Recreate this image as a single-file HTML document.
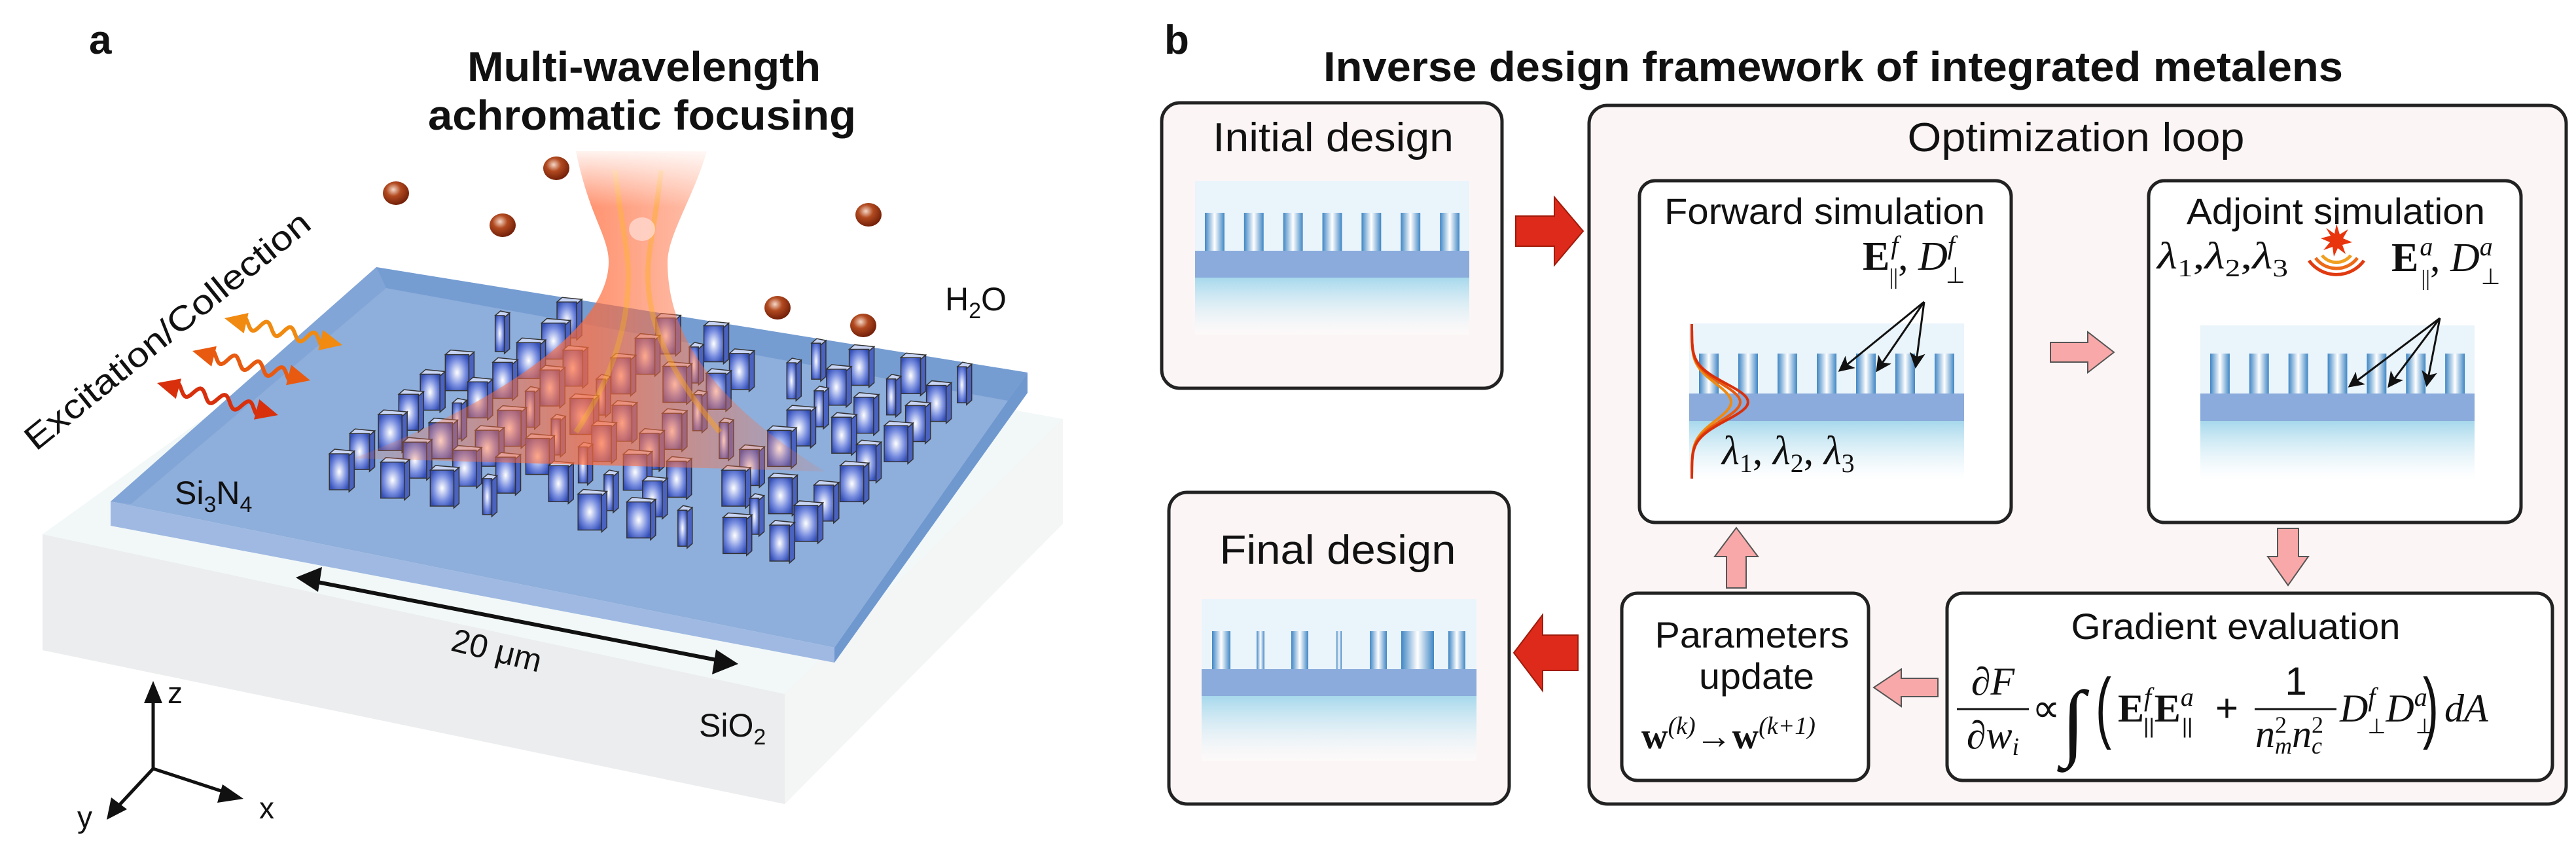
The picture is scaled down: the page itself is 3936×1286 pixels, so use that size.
<!DOCTYPE html>
<html><head><meta charset="utf-8"><style>
html,body{margin:0;padding:0;background:#fff;}
svg{display:block;}
text{font-family:"Liberation Sans",sans-serif;fill:#111;}
.m{font-family:"Liberation Serif",serif;font-style:italic;}
.b{font-family:"Liberation Serif",serif;font-weight:bold;font-style:normal;}
</style></head><body>
<svg id="s" width="3936" height="1286" viewBox="0 0 3936 1286" xmlns="http://www.w3.org/2000/svg">
<defs>
<linearGradient id="pil" x1="0" x2="1" y1="0" y2="0"><stop offset="0" stop-color="#3f86c4"/><stop offset="0.5" stop-color="#ffffff"/><stop offset="1" stop-color="#3f86c4"/></linearGradient>
<linearGradient id="bel" x1="0" x2="0" y1="0" y2="1"><stop offset="0" stop-color="#a6d8ec"/><stop offset="1" stop-color="#ffffff" stop-opacity="0.4"/></linearGradient>
<radialGradient id="cube" cx="0.5" cy="0.5" r="0.6"><stop offset="0" stop-color="#ffffff"/><stop offset="0.6" stop-color="#7a8fe0"/><stop offset="1" stop-color="#3550b8"/></radialGradient>
<radialGradient id="ball" cx="0.4" cy="0.35" r="0.7"><stop offset="0" stop-color="#f5d8c8"/><stop offset="0.4" stop-color="#b24a20"/><stop offset="1" stop-color="#6a1a05"/></radialGradient>
<linearGradient id="beam" x1="0" x2="1" y1="0" y2="0"><stop offset="0" stop-color="#ff7040" stop-opacity="0.15"/><stop offset="0.5" stop-color="#ff6a3a" stop-opacity="0.9"/><stop offset="1" stop-color="#ff7040" stop-opacity="0.15"/></linearGradient>
<linearGradient id="beamv" x1="0" x2="0" y1="0" y2="1"><stop offset="0" stop-color="#fff" stop-opacity="0"/><stop offset="0.12" stop-color="#fff" stop-opacity="1"/><stop offset="1" stop-color="#fff" stop-opacity="1"/></linearGradient>
<mask id="bm"><rect x="0" y="220" width="1700" height="800" fill="url(#beamv)"/></mask>
<marker id="ah" markerWidth="8" markerHeight="8" refX="7" refY="4" orient="auto" markerUnits="strokeWidth"><path d="M0,0 L8,4 L0,8 L2,4z" fill="#111"/></marker>
</defs>

<!-- Panel a -->
<text x="136" y="82" font-size="62" font-weight="bold">a</text>
<text x="984" y="124" font-size="64" font-weight="bold" text-anchor="middle" textLength="540" lengthAdjust="spacingAndGlyphs">Multi-wavelength</text>
<text x="981" y="198" font-size="64" font-weight="bold" text-anchor="middle" textLength="654" lengthAdjust="spacingAndGlyphs">achromatic focusing</text>

<!-- substrate -->
<polygon points="65,816 575,450 1624,640 1624,800 1199,1228 65,993" fill="#eef0f0" />
<polygon points="65,816 1199,1060 1199,1228 65,993" fill="#ebeced" opacity="0.9"/>
<polygon points="65,816 575,450 1624,640 1199,1060" fill="#f2f8f8"/>
<polygon points="1199,1060 1624,640 1624,800 1199,1228" fill="#f4f5f5"/>
<!-- slab -->
<polygon points="169,766 575,408 1570,569 1275,989" fill="#8eaedb"/>
<polygon points="169,766 1275,989 1275,1012 169,803" fill="#9fb9e2"/>
<polygon points="1275,989 1570,569 1570,600 1275,1012" fill="#6f98cf"/>
<polygon points="575,408 1570,569 1540,612 590,440" fill="#6f98cf" opacity="0.8"/>
<polygon points="169,766 575,408 590,440 200,770" fill="#7fa3d6" opacity="0.8"/>

<g id="pillars"></g>

<!-- beam -->
<g mask="url(#bm)" opacity="0.8">
<path d="M880,231 C900,330 930,360 930,400 C930,520 700,640 540,700 L1260,720 C1100,620 1020,520 1020,400 C1020,360 1060,300 1080,231 Z" fill="url(#beam)"/>
<path d="M940,260 C950,350 960,380 960,420 C960,520 920,600 880,660" stroke="#ff9a20" stroke-width="8" fill="none" opacity="0.7"/>
<path d="M1010,260 C1000,350 990,380 990,420 C990,520 1050,600 1100,660" stroke="#ff9a20" stroke-width="8" fill="none" opacity="0.7"/>
</g>

<!-- particles -->
<g>
<ellipse cx="605" cy="295" rx="20" ry="18" fill="url(#ball)"/>
<ellipse cx="850" cy="257" rx="20" ry="18" fill="url(#ball)"/>
<ellipse cx="768" cy="344" rx="20" ry="18" fill="url(#ball)"/>
<ellipse cx="981" cy="350" rx="20" ry="18" fill="#ffd8d0" opacity="0.8"/>
<ellipse cx="1327" cy="328" rx="20" ry="18" fill="url(#ball)"/>
<ellipse cx="1188" cy="470" rx="20" ry="18" fill="url(#ball)"/>
<ellipse cx="1319" cy="497" rx="20" ry="18" fill="url(#ball)"/>
</g>

<g id="waves"></g>

<text x="1444" y="474" font-size="50">H<tspan font-size="34" dy="12">2</tspan><tspan dy="-12">O</tspan></text>
<text x="267" y="770" font-size="50">Si<tspan font-size="34" dy="12">3</tspan><tspan dy="-12">N</tspan><tspan font-size="34" dy="12">4</tspan></text>
<text x="1068" y="1125" font-size="50">SiO<tspan font-size="34" dy="12">2</tspan></text>
<text x="0" y="0" font-size="50" transform="translate(687,993) rotate(14)">20 μm</text>
<line x1="475" y1="887" x2="1105" y2="1010" stroke="#111" stroke-width="6"/>
<polygon points="452,882 492,866 486,904" fill="#111"/>
<polygon points="1128,1014 1088,1030 1094,992" fill="#111"/>
<text x="0" y="0" font-size="52" transform="translate(55,690) rotate(-39)" textLength="545" lengthAdjust="spacingAndGlyphs">Excitation/Collection</text>

<!-- axes -->
<line x1="234" y1="1174" x2="234" y2="1060" stroke="#111" stroke-width="5"/>
<polygon points="234,1040 220,1074 248,1074" fill="#111"/>
<line x1="234" y1="1174" x2="350" y2="1212" stroke="#111" stroke-width="5"/>
<polygon points="372,1220 340,1198 332,1226" fill="#111"/>
<line x1="234" y1="1174" x2="180" y2="1232" stroke="#111" stroke-width="5"/>
<polygon points="163,1252 170,1218 194,1236" fill="#111"/>
<text x="256" y="1074" font-size="46">z</text>
<text x="396" y="1250" font-size="46">x</text>
<text x="118" y="1264" font-size="46">y</text>

<!-- Panel b -->
<text x="1779" y="82" font-size="62" font-weight="bold">b</text>
<text x="2801" y="124" font-size="64" font-weight="bold" text-anchor="middle" textLength="1558" lengthAdjust="spacingAndGlyphs">Inverse design framework of integrated metalens</text>

<g stroke="#222" stroke-width="5">
<rect x="1775" y="157" width="520" height="436" rx="28" fill="#fcf5f5"/>
<rect x="1786" y="752" width="520" height="476" rx="28" fill="#fcf5f5"/>
<rect x="2428" y="161" width="1493" height="1067" rx="28" fill="#fcf5f5"/>
<rect x="2505" y="276" width="568" height="522" rx="24" fill="#fff"/>
<rect x="3283" y="276" width="569" height="522" rx="24" fill="#fff"/>
<rect x="2478" y="906" width="377" height="286" rx="24" fill="#fff"/>
<rect x="2975" y="906" width="925" height="286" rx="24" fill="#fff"/>
</g>

<g id="lenses"></g>

<text x="2037" y="231" font-size="62" text-anchor="middle" textLength="368" lengthAdjust="spacingAndGlyphs">Initial design</text>
<text x="2044" y="861" font-size="62" text-anchor="middle" textLength="361" lengthAdjust="spacingAndGlyphs">Final design</text>
<text x="3172" y="231" font-size="62" text-anchor="middle" textLength="515" lengthAdjust="spacingAndGlyphs">Optimization loop</text>
<text x="2788" y="342" font-size="56" text-anchor="middle" textLength="490" lengthAdjust="spacingAndGlyphs">Forward simulation</text>
<text x="3569" y="342" font-size="56" text-anchor="middle" textLength="456" lengthAdjust="spacingAndGlyphs">Adjoint simulation</text>
<text x="3416" y="976" font-size="56" text-anchor="middle" textLength="503" lengthAdjust="spacingAndGlyphs">Gradient evaluation</text>
<text x="2677" y="989" font-size="56" text-anchor="middle" textLength="297" lengthAdjust="spacingAndGlyphs">Parameters</text>
<text x="2684" y="1052" font-size="56" text-anchor="middle" textLength="176" lengthAdjust="spacingAndGlyphs">update</text>
<text x="2508" y="1143" font-size="56"><tspan class="b">w</tspan><tspan class="m" font-size="38" dy="-22">(k)</tspan><tspan dy="22" font-family="Liberation Serif">→</tspan><tspan class="b">w</tspan><tspan class="m" font-size="38" dy="-22">(k+1)</tspan></text>

<!-- forward labels -->
<text x="2846" y="412" font-size="62"><tspan class="b">E</tspan><tspan class="m" font-size="40" dx="2" dy="-24">f</tspan><tspan font-family="Liberation Serif" font-size="34" dx="-14" dy="46">||</tspan><tspan font-family="Liberation Serif" dy="-22">, </tspan><tspan class="m">D</tspan><tspan class="m" font-size="40" dy="-24">f</tspan><tspan font-family="Liberation Serif" font-size="34" dx="-14" dy="44">⊥</tspan></text>
<text x="2631" y="709" font-size="62" class="m">λ<tspan font-size="40" font-style="normal" dy="12">1</tspan><tspan dy="-12" font-style="normal">, </tspan>λ<tspan font-size="40" font-style="normal" dy="12">2</tspan><tspan dy="-12" font-style="normal">, </tspan>λ<tspan font-size="40" font-style="normal" dy="12">3</tspan></text>
<!-- adjoint labels -->
<text x="3296" y="410" font-size="58" class="m" textLength="200" lengthAdjust="spacingAndGlyphs">λ<tspan font-size="38" font-style="normal" dy="12">1</tspan><tspan dy="-12" font-style="normal">,</tspan>λ<tspan font-size="38" font-style="normal" dy="12">2</tspan><tspan dy="-12" font-style="normal">,</tspan>λ<tspan font-size="38" font-style="normal" dy="12">3</tspan></text>
<text x="3654" y="414" font-size="62"><tspan class="b">E</tspan><tspan class="m" font-size="40" dx="2" dy="-24">a</tspan><tspan font-family="Liberation Serif" font-size="34" dx="-18" dy="46">||</tspan><tspan font-family="Liberation Serif" dy="-22">, </tspan><tspan class="m">D</tspan><tspan class="m" font-size="40" dy="-24">a</tspan><tspan font-family="Liberation Serif" font-size="34" dx="-18" dy="44">⊥</tspan></text>
<!-- burst -->
<g transform="translate(3570,368)">
<polygon points="0,-26 5,-10 18,-18 10,-4 24,2 9,6 14,20 2,11 -4,24 -6,9 -20,14 -10,2 -24,-4 -9,-8 -16,-20 -3,-11" fill="#e8350e"/>
<path d="M-22,22 A28,28 0 0 0 22,22" stroke="#f0a020" stroke-width="5" fill="none"/>
<path d="M-32,26 A40,40 0 0 0 32,26" stroke="#ec6a18" stroke-width="5" fill="none"/>
<path d="M-42,30 A52,52 0 0 0 42,30" stroke="#e03a10" stroke-width="5" fill="none"/>
</g>

<!-- formula -->
<g font-family="Liberation Serif" font-size="60">
<text x="3045" y="1061" class="m" text-anchor="middle">∂F</text>
<line x1="2990" y1="1083" x2="3100" y2="1083" stroke="#111" stroke-width="3"/>
<text x="3045" y="1143" class="m" text-anchor="middle">∂w<tspan font-size="38" dy="10">i</tspan></text>
<text x="3105" y="1102">∝</text>
<text x="3150" y="1145" class="m" font-size="130">∫</text>
<text x="3200" y="1120" font-size="120" transform="translate(3205,1100) scale(0.6,1) translate(-3205,-1100)">(</text>
<text x="3236" y="1102"><tspan class="b">E</tspan><tspan class="m" font-size="40" dy="-24">f</tspan><tspan font-size="32" dx="-12" dy="42">||</tspan><tspan class="b" dy="-18">E</tspan><tspan class="m" font-size="40" dy="-24">a</tspan><tspan font-size="32" dx="-18" dy="42">||</tspan></text>
<text x="3385" y="1102">+</text>
<text x="3508" y="1061" text-anchor="middle">1</text>
<line x1="3445" y1="1083" x2="3570" y2="1083" stroke="#111" stroke-width="3"/>
<text x="3446" y="1141" class="m">n<tspan font-size="36" font-style="normal" dy="-22">2</tspan><tspan font-size="36" dx="-18" dy="32">m</tspan><tspan dy="-10">n</tspan><tspan font-size="36" font-style="normal" dy="-22">2</tspan><tspan font-size="36" dx="-18" dy="32">c</tspan></text>
<text x="3575" y="1102" class="m">D<tspan font-size="40" dy="-24">f</tspan><tspan font-size="32" font-style="normal" dx="-12" dy="42">⊥</tspan><tspan dy="-18">D</tspan><tspan font-size="40" dy="-24">a</tspan><tspan font-size="32" font-style="normal" dx="-18" dy="42">⊥</tspan></text>
<text x="3700" y="1120" font-size="120" transform="translate(3705,1100) scale(0.6,1) translate(-3705,-1100)">)</text>
<text x="3735" y="1102" class="m">dA</text>
</g>

<!-- arrows big red -->
<polygon points="2316,330 2375,330 2375,301 2419,353 2375,405 2375,376 2316,376" fill="#dd2a1a" stroke="#a01a0a" stroke-width="2"/>
<polygon points="2411,970 2357,970 2357,939 2313,997 2357,1055 2357,1024 2411,1024" fill="#dd2a1a" stroke="#a01a0a" stroke-width="2"/>
<!-- pink arrows -->
<g fill="#f8a8a8" stroke="#555" stroke-width="2">
<polygon points="3133,523 3190,523 3190,507 3230,538 3190,569 3190,553 3133,553"/>
<polygon points="3480,807 3512,807 3512,850 3527,850 3496,894 3465,850 3480,850"/>
<polygon points="2961,1036 2905,1036 2905,1022 2863,1050 2905,1079 2905,1064 2961,1064"/>
<polygon points="2638,898 2668,898 2668,850 2686,850 2653,806 2620,850 2638,850"/>
</g>
</svg>
<script>
var NS="http://www.w3.org/2000/svg";
function el(t,a,p){var e=document.createElementNS(NS,t);for(var k in a)e.setAttribute(k,a[k]);p.appendChild(e);return e;}
var L=document.getElementById("lenses");
function lens(x0,y0,w,pt,pb,sb,bot,widths){
  var g=el("g",{},L);
  el("rect",{x:x0,y:y0,width:w,height:pb-y0,fill:"#eaf4fb"},g);
  var n=7,sp=w/7;
  for(var i=0;i<n;i++){var pw=widths?widths[i]:sp*0.5;var px=x0+sp*i+(sp-pw)/2;
    el("rect",{x:px,y:pt,width:pw,height:pb-pt,fill:"url(#pil)"},g);}
  el("rect",{x:x0,y:pb,width:w,height:sb-pb,fill:"#8aabdb"},g);
  el("rect",{x:x0,y:sb,width:w,height:bot-sb,fill:"url(#bel)"},g);
}
lens(1826,276,419,325,383,424,511);
lens(2581,494,420,540,601,643,733);
lens(3362,497,419,540,601,643,733);
lens(1836,915,420,964,1022,1063,1162,[28,12,26,8,26,50,26]);
var S=document.getElementById("s");
function arr(x1,y1,x2,y2){el("line",{x1:x1,y1:y1,x2:x2,y2:y2,stroke:"#111","stroke-width":3,"marker-end":"url(#ah)"},S);}
arr(2940,461,2811,566);arr(2940,461,2868,566);arr(2940,461,2927,560);
arr(3728,486,3590,590);arr(3728,486,3650,590);arr(3728,486,3708,588);
[["#f08a10",0],["#e85a10",14],["#d8300c",26]].forEach(function(c){
  var d="";for(var y=495;y<=733;y+=4){var t=(y-614)/40;var x=2585+(60+c[1])*Math.exp(-t*t);d+=(y==495?"M":"L")+x.toFixed(1)+","+y;}
  el("path",{d:d,stroke:c[0],"stroke-width":4,fill:"none"},S);
});
var P=document.getElementById("pillars");
var pts=[];
for(var r=0;r<9;r++)for(var c=0;c<10;c++){
  var seed=Math.sin(r*12.9898+c*78.233)*43758.5453;seed-=Math.floor(seed);
  if(seed<0.1)continue;
  var u=0.27+c*0.075+(seed-0.5)*0.02,v=0.15+r*0.085;
  var x=575+u*995-v*406,y=408+u*161+v*358;
  var w=seed>0.8?14:(seed>0.5?36:30);
  pts.push([x,y,w]);
}
pts.sort(function(a,b){return a[1]-b[1];});
pts.forEach(function(p){
  var x=p[0],y=p[1],w=p[2],h=55;
  var g=el("g",{},P);
  el("polygon",{points:(x)+","+(y-h)+" "+(x+w)+","+(y-h+3)+" "+(x+w+8)+","+(y-h-4)+" "+(x+8)+","+(y-h-7),fill:"#c8d4f4",stroke:"#333","stroke-width":1.5},g);
  el("polygon",{points:(x+w)+","+(y-h+3)+" "+(x+w+8)+","+(y-h-4)+" "+(x+w+8)+","+(y-4)+" "+(x+w)+","+(y+3),fill:"#4a62c0",stroke:"#333","stroke-width":1.5},g);
  el("rect",{x:x,y:y-h,width:w,height:h,fill:"url(#cube)",stroke:"#333","stroke-width":1.5},g);
});
var W=document.getElementById("waves");
[[343,486,523,527,"#f08a10"],[294,536,474,581,"#e85a10"],[240,585,425,634,"#d8300c"]].forEach(function(a){
  var dx=a[2]-a[0],dy=a[3]-a[1],L2=Math.sqrt(dx*dx+dy*dy),ux=dx/L2,uy=dy/L2,nx=-uy,ny=ux;
  var d="";for(var s=22;s<=L2-22;s+=2){var o=9*Math.sin(s/L2*Math.PI*10);var x=a[0]+ux*s+nx*o,y=a[1]+uy*s+ny*o;d+=(s==22?"M":"L")+x.toFixed(1)+","+y.toFixed(1);}
  el("path",{d:d,stroke:a[4],"stroke-width":6,fill:"none"},W);
  function head(x,y,dirx,diry){el("polygon",{points:x+","+y+" "+(x-dirx*34+nx*16)+","+(y-diry*34+ny*16)+" "+(x-dirx*34-nx*16)+","+(y-diry*34-ny*16),fill:a[4]},W);}
  head(a[2],a[3],ux,uy);head(a[0],a[1],-ux,-uy);
});
</script>
</body></html>
